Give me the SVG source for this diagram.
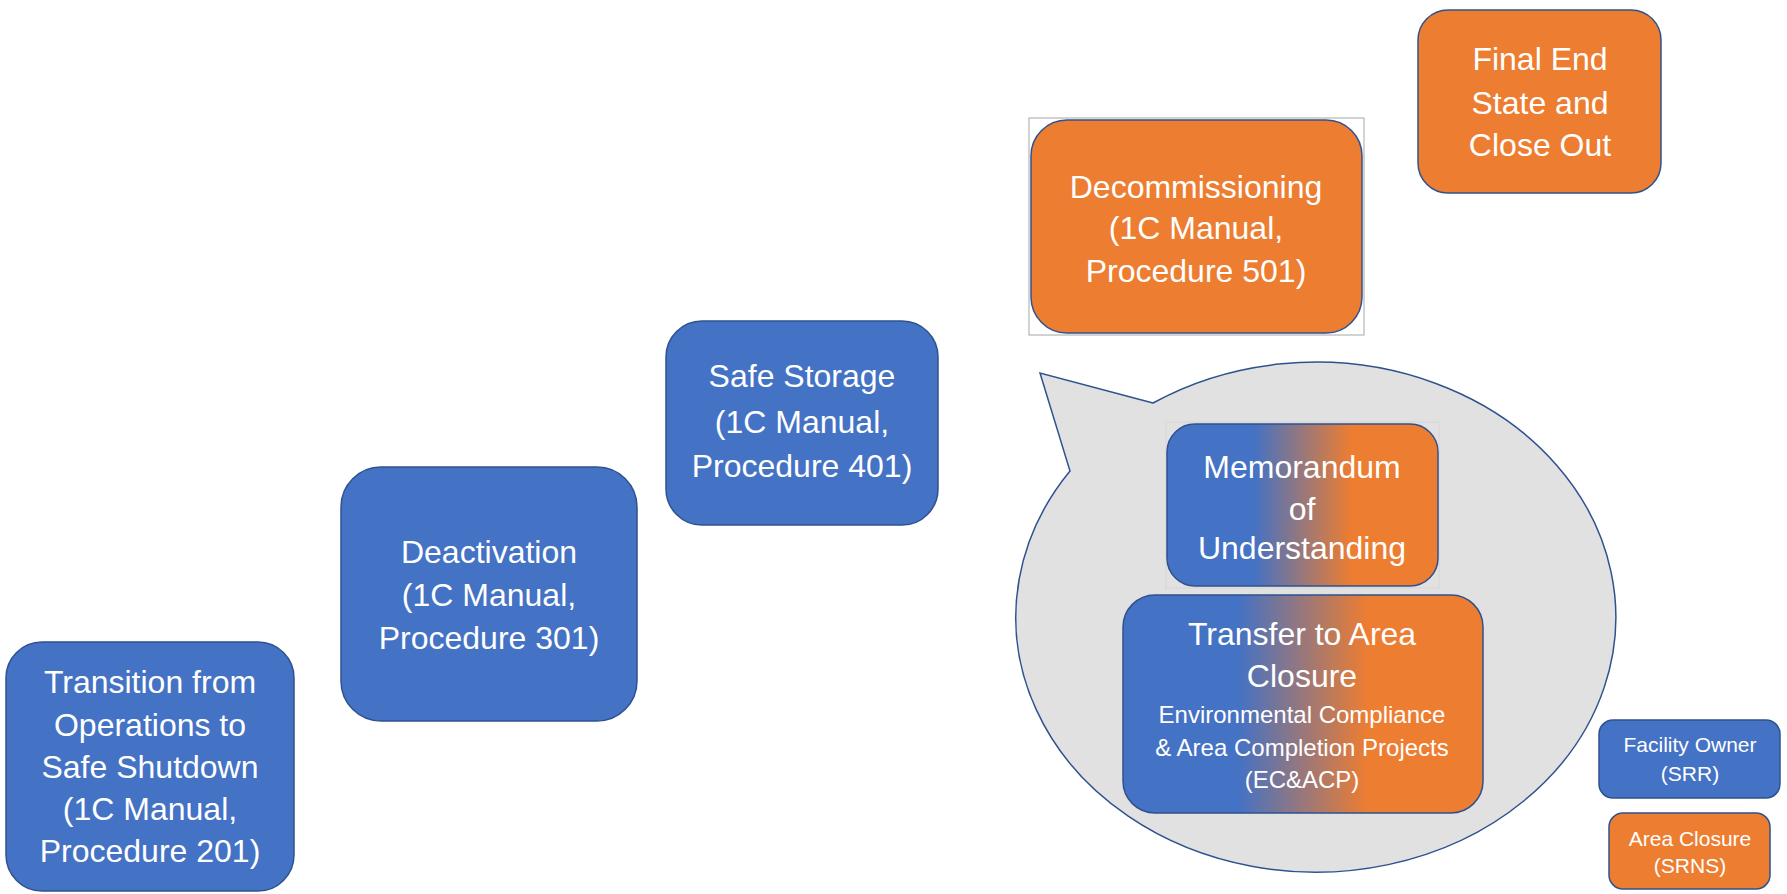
<svg xmlns="http://www.w3.org/2000/svg" width="1787" height="894" viewBox="0 0 1787 894">
<style>
.blue{fill:#4472C4;stroke:#2F528F;stroke-width:1.5}
.orange{fill:#ED7D31;stroke:#2F528F;stroke-width:1.5}
.mix{fill:url(#grad);stroke:#2F528F;stroke-width:1.5}
.t{font-family:"Liberation Sans",Arial,sans-serif;fill:#fff;text-anchor:middle}
.big{font-size:32px}
.sm{font-size:24px}
.xs{font-size:21px}
</style>
<defs>
<linearGradient id="grad" x1="0" y1="0" x2="1" y2="0">
<stop offset="0.32" stop-color="#4472C4"/>
<stop offset="0.68" stop-color="#ED7D31"/>
</linearGradient>
</defs>
<g id="connectors"></g>
<g id="callout">
<path d="M 1153 403 L 1040 373 L 1070 471 A 300 255 0 1 0 1153 403 Z" fill="#E1E1E1" stroke="#2F528F" stroke-width="1.5"/>
</g>
<g id="transition">
<rect class="blue" x="6" y="642" width="288" height="249" rx="36"/>
<text class="t big"><tspan x="150" y="693">Transition from</tspan><tspan x="150" y="736">Operations to</tspan><tspan x="150" y="778">Safe Shutdown</tspan><tspan x="150" y="820">(1C Manual,</tspan><tspan x="150" y="862">Procedure 201)</tspan></text>
</g>
<g id="deactivation">
<rect class="blue" x="341" y="467" width="296" height="254" rx="40"/>
<text class="t big"><tspan x="489" y="563">Deactivation</tspan><tspan x="489" y="606">(1C Manual,</tspan><tspan x="489" y="649">Procedure 301)</tspan></text>
</g>
<g id="safe-storage">
<rect class="blue" x="666" y="321" width="272" height="204" rx="36"/>
<text class="t big"><tspan x="802" y="387">Safe Storage</tspan><tspan x="802" y="433">(1C Manual,</tspan><tspan x="802" y="477">Procedure 401)</tspan></text>
</g>
<g id="decommissioning">
<rect x="1029" y="118" width="335" height="217" fill="none" stroke="#A6A6A6" stroke-width="1"/>
<rect class="orange" x="1031" y="120" width="331" height="213" rx="36"/>
<text class="t big"><tspan x="1196" y="198">Decommissioning</tspan><tspan x="1196" y="239">(1C Manual,</tspan><tspan x="1196" y="282">Procedure 501)</tspan></text>
</g>
<g id="final-end-state">
<rect class="orange" x="1418" y="10" width="243" height="183" rx="30"/>
<text class="t big"><tspan x="1540" y="70">Final End</tspan><tspan x="1540" y="114">State and</tspan><tspan x="1540" y="156">Close Out</tspan></text>
</g>
<g id="memorandum">
<rect x="1166" y="422" width="273" height="166" fill="none" stroke="#D6D6D6" stroke-width="1"/>
<rect class="mix" x="1167" y="424" width="271" height="162" rx="28"/>
<text class="t big"><tspan x="1302" y="478">Memorandum</tspan><tspan x="1302" y="520">of</tspan><tspan x="1302" y="559">Understanding</tspan></text>
</g>
<g id="transfer">
<rect class="mix" x="1123" y="595" width="360" height="218" rx="32"/>
<text class="t big"><tspan x="1302" y="645">Transfer to Area</tspan><tspan x="1302" y="687">Closure</tspan></text>
<text class="t sm"><tspan x="1302" y="723">Environmental Compliance</tspan><tspan x="1302" y="756">&amp; Area Completion Projects</tspan><tspan x="1302" y="788">(EC&amp;ACP)</tspan></text>
</g>
<g id="legend-facility-owner">
<rect class="blue" x="1599" y="720" width="181" height="78" rx="14"/>
<text class="t xs"><tspan x="1690" y="752">Facility Owner</tspan><tspan x="1690" y="781">(SRR)</tspan></text>
</g>
<g id="legend-area-closure">
<rect class="orange" x="1609" y="813" width="161" height="76" rx="14"/>
<text class="t xs"><tspan x="1690" y="846">Area Closure</tspan><tspan x="1690" y="873">(SRNS)</tspan></text>
</g>
</svg>
